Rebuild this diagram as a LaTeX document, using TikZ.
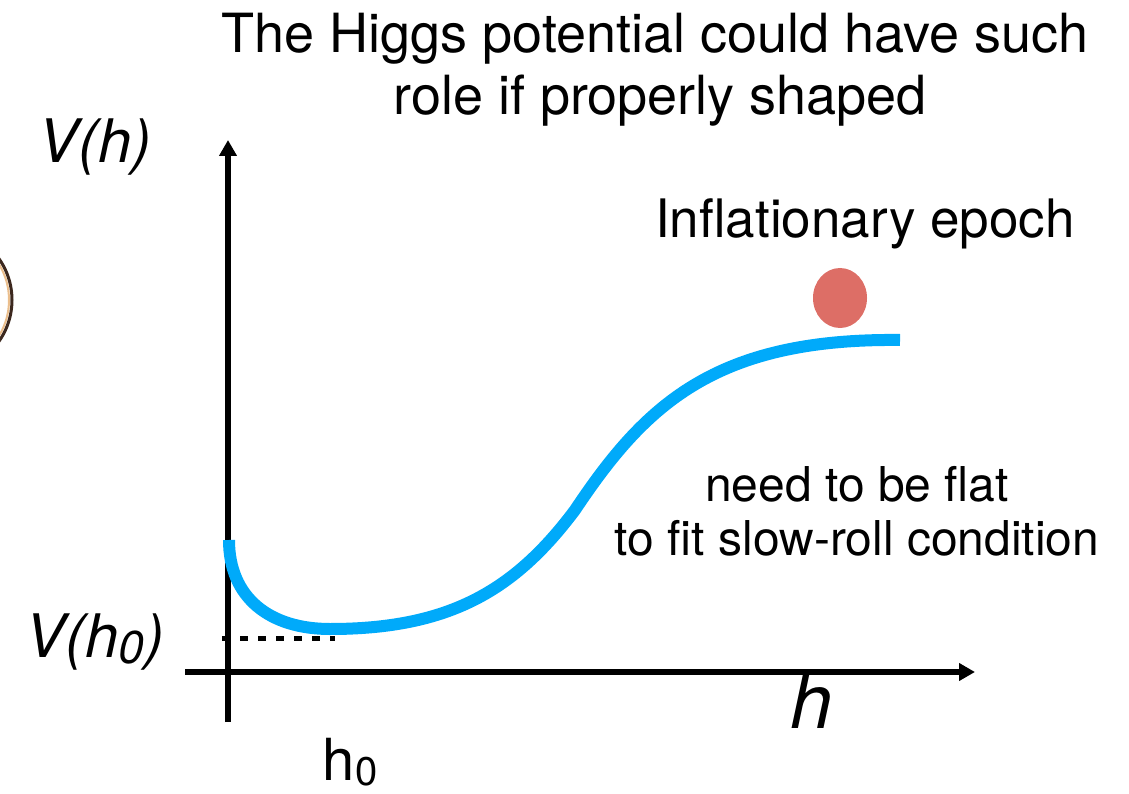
\documentclass[tikz,border=0pt]{standalone}
\usepackage{fontspec}
\setmainfont{TeX Gyre Heros}
\usetikzlibrary{arrows.meta}
\definecolor{curveblue}{RGB}{0,170,250}
\definecolor{ballred}{RGB}{221,110,102}
\definecolor{rimbrown}{RGB}{60,40,30}
\definecolor{rimtint}{RGB}{235,190,140}
\begin{document}
\begin{tikzpicture}[x=1pt,y=-1pt,
  axisline/.style={line width=5.5pt,-{Triangle[width=17pt,length=16pt]}},
  potential/.style={line width=12pt,draw=curveblue},
  lbl/.style={inner sep=0pt,anchor=base}]
\useasboundingbox (0,0) rectangle (1129,794);
% partial circle at left edge
\begin{scope}
  \clip (0,0) rectangle (1129,794);
  \draw[rimtint,line width=2pt] (-60,300) circle [radius=69pt];
  \draw[rimbrown,line width=3pt] (-60,300) circle [radius=72pt];
\end{scope}
% title
\node[lbl,font=\fontsize{54}{62}\selectfont] (title1) at (655,53) {The Higgs potential could have such};
\node[lbl,font=\fontsize{54}{62}\selectfont] (title2) at (660,115) {role if properly shaped};
% axes
\coordinate (ybot) at (228,722);
\coordinate (ytop) at (228,140);
\coordinate (xleft) at (185,672);
\coordinate (xright) at (975,672);
\draw[axisline] (ybot) -- (ytop);
\draw[axisline] (xleft) -- (xright);
% axis labels
\node[lbl,font=\fontsize{60}{60}\selectfont\itshape] (vh) at (95,163) {V(h)};
\node[lbl,font=\fontsize{60}{60}\selectfont\itshape] (vh0) at (95,657) {V(h\raisebox{-0.1em}{\fontsize{46}{46}\selectfont 0})};
\node[lbl,font=\fontsize{76}{76}\selectfont\itshape] (hlab) at (812,728) {h};
\node[lbl,font=\fontsize{58}{58}\selectfont] (h0) at (350,780) {h\raisebox{-0.1em}{\fontsize{40}{40}\selectfont 0}};
% dashed level
\coordinate (d1) at (222,638);
\coordinate (d2) at (335,638);
\draw[line width=5pt,dash pattern=on 8pt off 10pt] (d1) -- (d2);
% potential curve
\coordinate (p0) at (229,540);
\coordinate (pmin) at (330,629);
\coordinate (pmid) at (575,510);
\coordinate (pend) at (900,340);
\draw[potential] (p0) .. controls (229,598) and (270,629) .. (pmin)
  .. controls (450,629) and (515,590) .. (pmid)
  .. controls (645,405) and (715,338) .. (pend);
% ball
\fill[ballred] (840,298) ellipse [x radius=27pt,y radius=30pt];
\coordinate (ball) at (840,298);
% texts
\node[lbl,font=\fontsize{53}{60}\selectfont] (epoch) at (865,238) {Inflationary epoch};
\node[lbl,font=\fontsize{48}{54}\selectfont] (flat1) at (857,501) {need to be flat};
\node[lbl,font=\fontsize{48}{54}\selectfont] (flat2) at (857,555) {to fit slow-roll condition};
\end{tikzpicture}
\end{document}
